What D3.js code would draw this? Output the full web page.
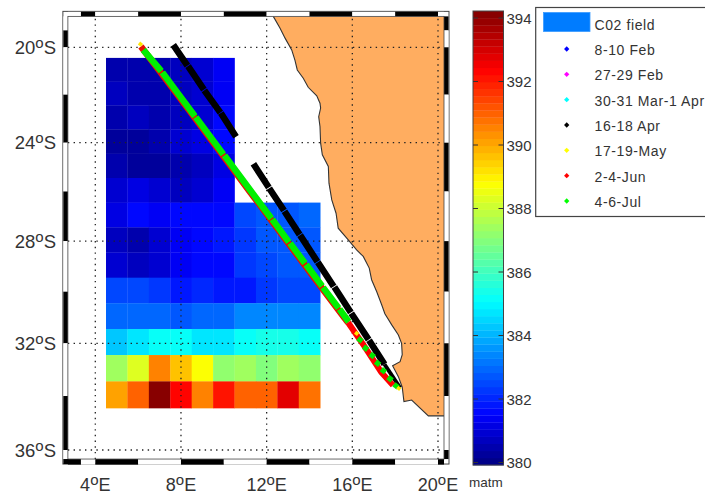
<!DOCTYPE html>
<html>
<head>
<meta charset="utf-8">
<script src="https://cdn.jsdelivr.net/npm/d3@7"></script>
<style>
body { margin: 0; background: #fff; }
text { font-family: "Liberation Sans", Arial, sans-serif; fill: #333; }
</style>
</head>
<body>
<svg id="svg1" width="705" height="495"></svg>
<script>
var lonTicks = [4, 8, 12, 16, 20];
var latTicks = [-20, -24, -28, -32, -36];
var colorTicks = [380, 382, 384, 386, 388, 390, 392, 394];

//edges of the CO2 grid cells
var lonEdges = [4.5, 5.5, 6.5, 7.5, 8.5, 9.5, 10.5, 11.5, 12.5, 13.5, 14.5];
var latEdges = [-20.45, -21.45, -22.45, -23.45, -24.45, -25.45, -26.45, -27.45,
    -28.45, -29.45, -30.45, -31.45, -32.45, -33.45, -34.45];

//pCO2 per row, north to south (matm)
var co2Field = [
    [380.5, 380.5, 380.4, 380.6, 381.0, 381.3],
    [380.6, 380.4, 380.4, 380.7, 380.9, 381.4],
    [380.5, 380.6, 380.4, 380.6, 380.9, 381.55],
    [380.3, 380.2, 380.4, 380.8, 381.1, 381.6],
    [380.4, 380.2, 380.3, 380.4, 380.7, 381.2],
    [380.8, 381.1, 381.0, 380.7, 380.9, 381.4],
    [381.2, 381.55, 381.4, 381.5, 381.55, 381.6, 382.5, 382.7, 382.8, 383.0],
    [380.6, 380.5, 380.8, 381.3, 381.6, 381.9, 382.3, 382.6, 382.7, 382.8],
    [380.9, 380.7, 380.9, 381.3, 381.5, 381.5, 382.15, 382.4, 382.6, 382.6],
    [382.4, 382.4, 382.15, 381.9, 382.0, 381.9, 381.8, 382.15, 382.4, 382.4],
    [383.0, 382.9, 382.9, 382.8, 383.0, 383.0, 383.3, 383.3, 383.3, 383.3],
    [384.2, 384.6, 385.15, 385.05, 384.6, 384.8, 385.15, 385.3, 385.3, 385.15],
    [387.4, 388.3, 390.5, 389.7, 388.8, 387.2, 387.4, 387.0, 387.4, 387.2],
    [390.0, 391.0, 394.2, 392.3, 390.5, 392.1, 391.0, 391.0, 392.7, 390.8]
];

//african coast, lon / lat
var coast = [[12.31, -18.68], [12.62, -19.18], [12.86, -19.61], [13.17, -20.11], [13.32, -20.54],
    [13.43, -20.96], [13.71, -21.31], [13.94, -21.69], [14.34, -22.05], [14.49, -22.36],
    [14.52, -22.56], [14.43, -22.92], [14.49, -23.33], [14.52, -24.02], [14.60, -24.50],
    [14.88, -24.98], [14.91, -25.66], [15.04, -26.34], [15.24, -26.88], [15.34, -27.48],
    [15.81, -27.95], [16.20, -28.35], [16.51, -28.61], [16.79, -29.07], [16.90, -29.53],
    [17.14, -30.00], [17.37, -30.51], [17.52, -30.86], [17.84, -31.29], [18.15, -31.68],
    [18.30, -32.00], [18.33, -32.44], [18.23, -32.70], [17.88, -32.86], [18.15, -33.27],
    [18.33, -33.67], [18.41, -34.21], [18.77, -34.15], [19.55, -34.74], [20.28, -34.74]];

//16-18 Apr, null = break in the track
var aprTrack = [[7.64, -19.90], [8.30, -20.78], null, [8.33, -20.80], [9.07, -21.79], null,
    [9.09, -21.82], [9.84, -22.75], null, [9.86, -22.77], [10.57, -23.75], null,
    [11.38, -24.87], [12.10, -25.84], null, [12.12, -25.87], [12.81, -26.77], null,
    [12.83, -26.80], [13.54, -27.74], null, [13.56, -27.76], [14.37, -28.82], null,
    [14.39, -28.84], [15.13, -29.80], null, [15.16, -29.82], [15.93, -30.81], null,
    [15.95, -30.84], [16.76, -31.86], null, [16.78, -31.88], [17.50, -32.80]];
var aprSouth = [[17.50, -32.80], [18.23, -33.69]];

//2-4 Jun
var junTrack = [[6.13, -19.97], [7.00, -21], [7.84, -22], [8.67, -23], [9.51, -24], [10.36, -25],
    [11.21, -26], [12.08, -27], [12.94, -28], [13.82, -29], [14.71, -30], [15.61, -31], [15.80, -31.2]];
var junSouth = [[15.80, -31.2], [16.55, -32.1], [17.35, -33.1], [17.90, -33.6]];

//4-6 Jul
var julTrack = [[6.24, -20.11], [7.08, -21.01], null, [7.13, -21.06], [7.90, -22], [8.65, -22.90], null,
    [8.69, -22.94], [9.98, -24.48], null, [10.03, -24.52], [11.28, -26], [12.22, -27.09], null,
    [12.26, -27.13], [13.04, -28.04], null, [13.09, -28.08], [13.79, -28.88], null,
    [13.84, -28.93], [14.59, -29.78], null, [14.63, -29.83], [15.36, -30.64], null,
    [15.40, -30.68], [15.83, -31.17]];
var julPoints = [[16.36, -31.87], [16.62, -32.19], [16.93, -32.47], [17.18, -32.76],
    [17.45, -33.05], [17.76, -33.35], [18.04, -33.62]];

//17-19 May, what is left visible of it
var mayPoints = [[6.11, -19.87], [16.2, -31.62], [18.17, -33.71]];

var legendLabels = ['8-10 Feb', '27-29 Feb', '30-31 Mar-1 Apr', '16-18 Apr', '17-19-May', '2-4-Jun', '4-6-Jul'];
var legendColors = ['#0000ff', '#ff00ff', '#00ffff', '#000000', '#ffff00', '#ff0000', '#00ff00'];

var svg1 = d3.select('#svg1');

//mercator latitude, stretched a bit like the original
function merc(lat) {
    return Math.atanh(Math.sin(Math.abs(lat) * Math.PI / 180));
}

var xScale = d3.scaleLinear().domain([4, 20]).range([95.3, 438]);
var yMerc = d3.scaleLinear().domain([merc(20), merc(36)]).range([47.3, 450]);
function yScale(lat) {
    return yMerc(merc(lat));
}

//jet colormap with 64 steps like matlab
var jetRamp = d3.scaleLinear()
    .domain([0, 0.11, 0.36, 0.62, 0.87, 1])
    .range(['#000080', '#0000ff', '#00ffff', '#ffff00', '#ff0000', '#800000']);
var jetColors = d3.range(64).map(function (i) {
    return jetRamp((i + 0.5) / 64);
});
var colorScale = d3.scaleQuantize().domain([379.9, 394.22]).range(jetColors);

var lineGeo = d3.line()
    .defined(function (d) { return d !== null; })
    .x(function (d) { return xScale(d[0]); })
    .y(function (d) { return yScale(d[1]); });

var plotLeft = xScale(2.72), plotRight = xScale(20.28);
var plotTop = yScale(-18.68), plotBottom = yScale(-36.33);

svg1.append('clipPath').attr('id', 'plotClip')
    .append('rect')
    .attr('x', plotLeft).attr('y', plotTop)
    .attr('width', plotRight - plotLeft).attr('height', plotBottom - plotTop);

var plot = svg1.append('g').attr('clip-path', 'url(#plotClip)');

//co2 cells
co2Field.forEach(function (row, r) {
    plot.append('g').selectAll('rect')
        .data(row)
        .enter()
        .append('rect')
        .attr('x', function (d, c) { return xScale(lonEdges[c]); })
        .attr('y', yScale(latEdges[r]))
        .attr('width', function (d, c) { return xScale(lonEdges[c + 1]) - xScale(lonEdges[c]) + 0.3; })
        .attr('height', yScale(latEdges[r + 1]) - yScale(latEdges[r]) + 0.3)
        .attr('fill', function (d) { return colorScale(d); });
});

//land
plot.append('path')
    .attr('d', lineGeo(coast.concat([[20.28, -18.68]])) + 'Z')
    .attr('fill', '#ffad60')
    .attr('stroke', 'none');
plot.append('path')
    .attr('d', lineGeo(coast))
    .attr('fill', 'none')
    .attr('stroke', '#333')
    .attr('stroke-width', 1.1);

//grid
plot.selectAll('.gridX')
    .data(lonTicks)
    .enter()
    .append('line')
    .attr('class', 'gridX')
    .attr('x1', function (d) { return xScale(d); })
    .attr('x2', function (d) { return xScale(d); })
    .attr('y1', plotBottom)
    .attr('y2', plotTop);
plot.selectAll('.gridY')
    .data(latTicks)
    .enter()
    .append('line')
    .attr('class', 'gridY')
    .attr('x1', plotLeft)
    .attr('x2', plotRight)
    .attr('y1', function (d) { return yScale(d); })
    .attr('y2', function (d) { return yScale(d); });
plot.selectAll('.gridX, .gridY')
    .attr('stroke', '#222')
    .attr('stroke-width', 1.3)
    .attr('stroke-dasharray', '1.4 4.3');

//cruise tracks
plot.append('path')
    .attr('d', lineGeo(aprTrack))
    .attr('fill', 'none')
    .attr('stroke', '#000')
    .attr('stroke-width', 6.5);
plot.append('path')
    .attr('d', lineGeo(aprSouth))
    .attr('fill', 'none')
    .attr('stroke', '#000')
    .attr('stroke-width', 4);
plot.append('path')
    .attr('d', lineGeo(junTrack))
    .attr('fill', 'none')
    .attr('stroke', '#e81000')
    .attr('stroke-width', 6.5);
plot.append('path')
    .attr('d', lineGeo(junSouth))
    .attr('fill', 'none')
    .attr('stroke', '#ff0000')
    .attr('stroke-width', 6);
plot.append('path')
    .attr('d', lineGeo(julTrack))
    .attr('fill', 'none')
    .attr('stroke', '#00f000')
    .attr('stroke-width', 6.5);

var bigDot = d3.symbol().type(d3.symbolSquare).size(28);
plot.selectAll('.julDot')
    .data(julPoints)
    .enter()
    .append('path')
    .attr('class', 'julDot')
    .attr('d', bigDot)
    .attr('fill', '#00e800')
    .attr('transform', function (d) {
        return 'translate(' + xScale(d[0]) + ',' + yScale(d[1]) + ') rotate(38)';
    });
plot.selectAll('.mayDot')
    .data(mayPoints)
    .enter()
    .append('path')
    .attr('class', 'mayDot')
    .attr('d', d3.symbol().type(d3.symbolSquare).size(14))
    .attr('fill', '#ffe600')
    .attr('transform', function (d) {
        return 'translate(' + xScale(d[0]) + ',' + yScale(d[1]) + ') rotate(38)';
    });

//m_map style fancy frame
var frame = svg1.append('g');
var lonBands = [2.72, 3.33, 4, 6, 8, 10, 12, 14, 16, 18, 20, 20.28];
var latBands = [-18.68, -19.28, -20, -22, -24, -26, -28, -30, -32, -34, -36, -36.33];
var outer = 5;

frame.append('rect')
    .attr('x', plotLeft - outer).attr('y', plotTop - outer)
    .attr('width', plotRight - plotLeft + 2 * outer)
    .attr('height', plotBottom - plotTop + 2 * outer)
    .attr('fill', 'none')
    .attr('stroke', '#444')
    .attr('stroke-width', 1);

d3.range(lonBands.length - 1).forEach(function (i) {
    var x0 = xScale(lonBands[i]), x1 = xScale(lonBands[i + 1]);
    frame.append('rect').attr('x', x0).attr('y', plotTop - outer + 0.5)
        .attr('width', x1 - x0).attr('height', outer - 0.5)
        .attr('fill', i % 2 ? '#000' : '#fff');
    frame.append('rect').attr('x', x0).attr('y', plotBottom)
        .attr('width', x1 - x0).attr('height', outer + 0.5)
        .attr('fill', i % 2 ? '#fff' : '#000');
});
d3.range(latBands.length - 1).forEach(function (i) {
    var y0 = yScale(latBands[i]), y1 = yScale(latBands[i + 1]);
    frame.append('rect').attr('x', plotLeft - outer + 0.5).attr('y', y0)
        .attr('width', outer - 0.5).attr('height', y1 - y0)
        .attr('fill', i % 2 ? '#000' : '#fff');
    frame.append('rect').attr('x', plotRight).attr('y', y0)
        .attr('width', outer - 0.5).attr('height', y1 - y0)
        .attr('fill', i % 2 ? '#fff' : '#000');
});
frame.append('rect')
    .attr('x', plotLeft).attr('y', plotTop)
    .attr('width', plotRight - plotLeft).attr('height', plotBottom - plotTop)
    .attr('fill', 'none')
    .attr('stroke', '#444')
    .attr('stroke-width', 0.8);
frame.append('rect')
    .attr('x', plotLeft - outer + 0.5).attr('y', plotBottom)
    .attr('width', outer).attr('height', outer)
    .attr('fill', '#000');

//tick labels, the degree sign is a raised small o
function degreeLabel(sel, value, letter) {
    sel.append('tspan').text(value);
    sel.append('tspan').attr('font-size', 15).attr('dy', -6).text('o');
    sel.append('tspan').attr('dy', 6).text(letter);
}

svg1.selectAll('.lonLabel')
    .data(lonTicks)
    .enter()
    .append('text')
    .attr('class', 'lonLabel')
    .attr('x', function (d) { return xScale(d); })
    .attr('y', 490.5)
    .attr('text-anchor', 'middle')
    .attr('font-size', 18)
    .each(function (d) { degreeLabel(d3.select(this), d, 'E'); });

svg1.selectAll('.latLabel')
    .data(latTicks)
    .enter()
    .append('text')
    .attr('class', 'latLabel')
    .attr('x', 56)
    .attr('y', function (d) { return yScale(d) + 6.5; })
    .attr('text-anchor', 'end')
    .attr('font-size', 18.5)
    .each(function (d) { degreeLabel(d3.select(this), Math.abs(d), 'S'); });

//colorbar
var barLeft = 473, barRight = 503.5;
var barScale = d3.scaleLinear().domain([380, 394]).range([462.5, 18]);
var barTop = barScale(394.22), barBottom = barScale(379.92);
var bandHeight = (barBottom - barTop) / jetColors.length;

svg1.selectAll('.barBand')
    .data(jetColors)
    .enter()
    .append('rect')
    .attr('class', 'barBand')
    .attr('x', barLeft)
    .attr('y', function (d, i) { return barBottom - (i + 1) * bandHeight; })
    .attr('width', barRight - barLeft)
    .attr('height', bandHeight + 0.3)
    .attr('fill', function (d) { return d; });
svg1.append('rect')
    .attr('x', barLeft).attr('y', barTop)
    .attr('width', barRight - barLeft).attr('height', barBottom - barTop)
    .attr('fill', 'none')
    .attr('stroke', '#444')
    .attr('stroke-width', 1);

var barTicks = svg1.selectAll('.barTick')
    .data(colorTicks)
    .enter()
    .append('g')
    .attr('class', 'barTick')
    .attr('transform', function (d) { return 'translate(0,' + barScale(d) + ')'; });
barTicks.append('line')
    .attr('x1', barLeft).attr('x2', barLeft + 5)
    .attr('stroke', '#333');
barTicks.append('line')
    .attr('x1', barRight - 5).attr('x2', barRight)
    .attr('stroke', '#333');
barTicks.append('text')
    .attr('x', 506.5)
    .attr('y', 5.5)
    .attr('font-size', 15)
    .text(function (d) { return d; });

svg1.append('text')
    .attr('x', 469)
    .attr('y', 487)
    .attr('font-size', 13.5)
    .text('matm');

//legend
svg1.append('rect')
    .attr('x', 535.7).attr('y', 7.5)
    .attr('width', 200).attr('height', 209)
    .attr('fill', '#fff')
    .attr('stroke', '#444')
    .attr('stroke-width', 1.2);
svg1.append('rect')
    .attr('x', 543.5).attr('y', 12.5)
    .attr('width', 46.5).attr('height', 19)
    .attr('fill', '#007cff')
    .attr('stroke', '#3a9bff')
    .attr('stroke-width', 0.8);
svg1.append('text')
    .attr('x', 594.5).attr('y', 30)
    .attr('font-size', 14)
    .attr('letter-spacing', 0.6)
    .text('C02 field');

var legendY = d3.scaleLinear().domain([0, 6]).range([49, 201]);
var legendRows = svg1.selectAll('.legendRow')
    .data(legendLabels)
    .enter()
    .append('g')
    .attr('class', 'legendRow')
    .attr('transform', function (d, i) { return 'translate(0,' + legendY(i) + ')'; });
legendRows.append('path')
    .attr('d', d3.symbol().type(d3.symbolSquare).size(14))
    .attr('transform', 'translate(566.7,0) rotate(45)')
    .attr('fill', function (d, i) { return legendColors[i]; });
legendRows.append('text')
    .attr('x', 594.5)
    .attr('y', 6)
    .attr('font-size', 14)
    .attr('letter-spacing', 0.6)
    .text(function (d) { return d; });
</script>
</body>
</html>
